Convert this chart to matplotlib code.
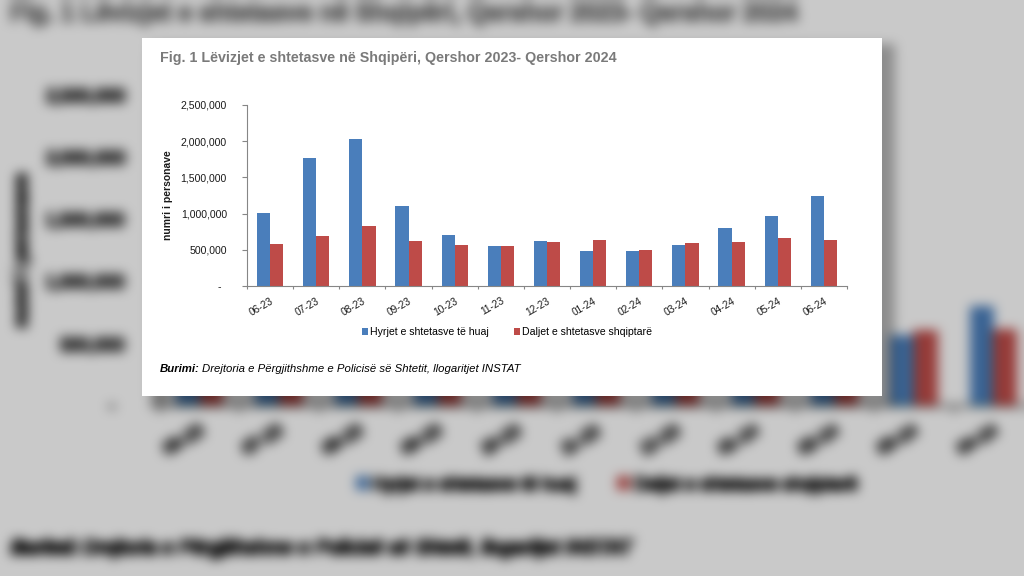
import numpy as np
import matplotlib
matplotlib.use("Agg")
import matplotlib.pyplot as plt
from matplotlib import font_manager
from matplotlib.patches import Rectangle
from matplotlib.ticker import FuncFormatter

# te dhenat (lexuar nga grafiku)
muajt = ["06-23", "07-23", "08-23", "09-23", "10-23", "11-23", "12-23",
         "01-24", "02-24", "03-24", "04-24", "05-24", "06-24"]
hyrjet = [1010000, 1770000, 2025000, 1110000, 705000, 552000, 618000,
          486000, 482000, 562000, 795000, 968000, 1238000]
daljet = [578000, 695000, 828000, 616000, 560000, 556000, 602000,
          642000, 503000, 600000, 610000, 663000, 638000]
emrat = ["Hyrjet e shtetasve të huaj", "Daljet e shtetasve shqiptarë"]
titulli = "Fig. 1 Lëvizjet e shtetasve në Shqipëri, Qershor 2023- Qershor 2024"
burimi = "Drejtoria e Përgjithshme e Policisë së Shtetit, llogaritjet INSTAT"

W, H = 1024, 576
DPI = 100
BLEU = "#4A7EBB"
KUQE = "#BE4B48"
GRI = "#868686"

plt.rcParams["font.family"] = ["Liberation Sans", "DejaVu Sans"]

try:
    font_manager.findfont("Liberation Sans Narrow", fallback_to_default=False)
    FONT_TITULL, MADH_TITULL = "Liberation Sans Narrow", 12.0
except ValueError:
    FONT_TITULL, MADH_TITULL = "Liberation Sans", 10.3


def vizato_kartele(fig, a, b, s):
    # a, b: zhvendosja ne piksel, s: shkalla
    def poz(x, y):
        return (a + s * x) / W, 1 - (b + s * y) / H

    x0, y0 = poz(142, 396)
    x1, y1 = poz(882, 38)
    fig.add_artist(Rectangle((x0, y0), x1 - x0, y1 - y0, transform=fig.transFigure,
                             facecolor="white", edgecolor="none", zorder=-5))

    l, bt = poz(247, 286)
    r, tp = poz(847, 105)
    ax = fig.add_axes([l, bt, r - l, tp - bt])
    ax.set_facecolor("none")

    x = np.arange(len(muajt))
    w = 0.285
    b1 = ax.bar(x - w / 2, hyrjet, w, color=BLEU, zorder=2)
    b2 = ax.bar(x + w / 2, daljet, w, color=KUQE, zorder=2)

    ax.set_xlim(-0.5, len(muajt) - 0.5)
    ax.set_ylim(0, 2500000)
    for k in ("top", "right"):
        ax.spines[k].set_visible(False)
    for k in ("left", "bottom"):
        ax.spines[k].set_color(GRI)
        ax.spines[k].set_linewidth(0.8 * s)

    ax.set_yticks(np.arange(0, 2500001, 500000))
    ax.yaxis.set_major_formatter(FuncFormatter(lambda v, p: "-  " if v == 0 else f"{v:,.0f}"))
    ax.tick_params(axis="y", direction="out", length=3.5 * s, width=0.8 * s, color=GRI,
                   pad=11 * s, labelsize=7.6 * s, labelcolor="#1a1a1a")

    ax.set_xticks(np.arange(-0.5, len(muajt), 1.0))
    ax.set_xticklabels([])
    ax.set_xticks(x, minor=True)
    ax.set_xticklabels(muajt, minor=True, rotation=30, ha="right", va="top",
                       rotation_mode="anchor")
    ax.tick_params(axis="x", which="major", direction="out", length=2.5 * s,
                   width=0.8 * s, color=GRI)
    ax.tick_params(axis="x", which="minor", length=0, pad=7 * s, labelsize=7.3 * s,
                   labelcolor="#1a1a1a")

    fig.text(*poz(160, 58), titulli, ha="left", va="center", fontsize=MADH_TITULL * s,
             fontweight="bold", color="#7a7a7a", family=[FONT_TITULL, "Liberation Sans"])
    fig.text(*poz(168, 195), "numri i personave", rotation=90, ha="center", va="center",
             fontsize=7.5 * s, fontweight="bold", color="#1a1a1a")

    fig.legend([b1, b2], emrat, loc="center", bbox_to_anchor=poz(507, 332), ncol=2,
               frameon=False, fontsize=7.6 * s, handlelength=0.6, handleheight=0.6,
               handletextpad=0.25, columnspacing=2.3, borderpad=0, borderaxespad=0)

    t1 = fig.text(*poz(160, 369), "Burimi:", ha="left", va="center", fontsize=8.2 * s,
                  fontweight="bold", fontstyle="italic", color="black")
    ax.annotate(burimi, xy=(1, 0), xycoords=t1, xytext=(1.5 * s, 0),
                textcoords="offset points", ha="left", va="bottom", fontsize=8.2 * s,
                fontstyle="italic", color="black", annotation_clip=False)


def trash(img):
    # minimumi 3x3: vijat e errta behen me te trasha
    p = np.pad(img, ((1, 1), (1, 1), (0, 0)), mode="edge")
    h, w = img.shape[:2]
    out = img.copy()
    for dy in range(3):
        for dx in range(3):
            out = np.minimum(out, p[dy:dy + h, dx:dx + w])
    return out


def flou(img, r):
    # tre kalime me kuti ~ gaussian
    for _ in range(3):
        for os_ in (0, 1):
            pad = [(0, 0)] * 3
            pad[os_] = (r + 1, r)
            p = np.pad(img, pad, mode="edge")
            c = np.cumsum(p, axis=os_)
            n = c.shape[os_]
            img = (np.take(c, np.arange(2 * r + 1, n), axis=os_)
                   - np.take(c, np.arange(0, n - 2 * r - 1), axis=os_)) / (2 * r + 1)
    return img


# sfondi: e njejta kartele, e zmadhuar dhe e turbullt
fig_bg = plt.figure(figsize=(W / DPI, H / DPI), dpi=DPI, facecolor="white")
vizato_kartele(fig_bg, -265, -86, 1.72)
fig_bg.canvas.draw()
img = np.asarray(fig_bg.canvas.buffer_rgba())[..., :3].astype(float)
plt.close(fig_bg)
img = trash(img)
# hija e karteles
img[44:406, 150:895] = img[44:406, 150:895] * 0.7
img = np.clip(flou(img, 5) * 0.79, 0, 255).astype(np.uint8)

fig = plt.figure(figsize=(W / DPI, H / DPI), dpi=DPI)
fig.figimage(img, 0, 0, zorder=-10)
vizato_kartele(fig, 0, 0, 1)
fig.savefig("out.png", dpi=DPI)
